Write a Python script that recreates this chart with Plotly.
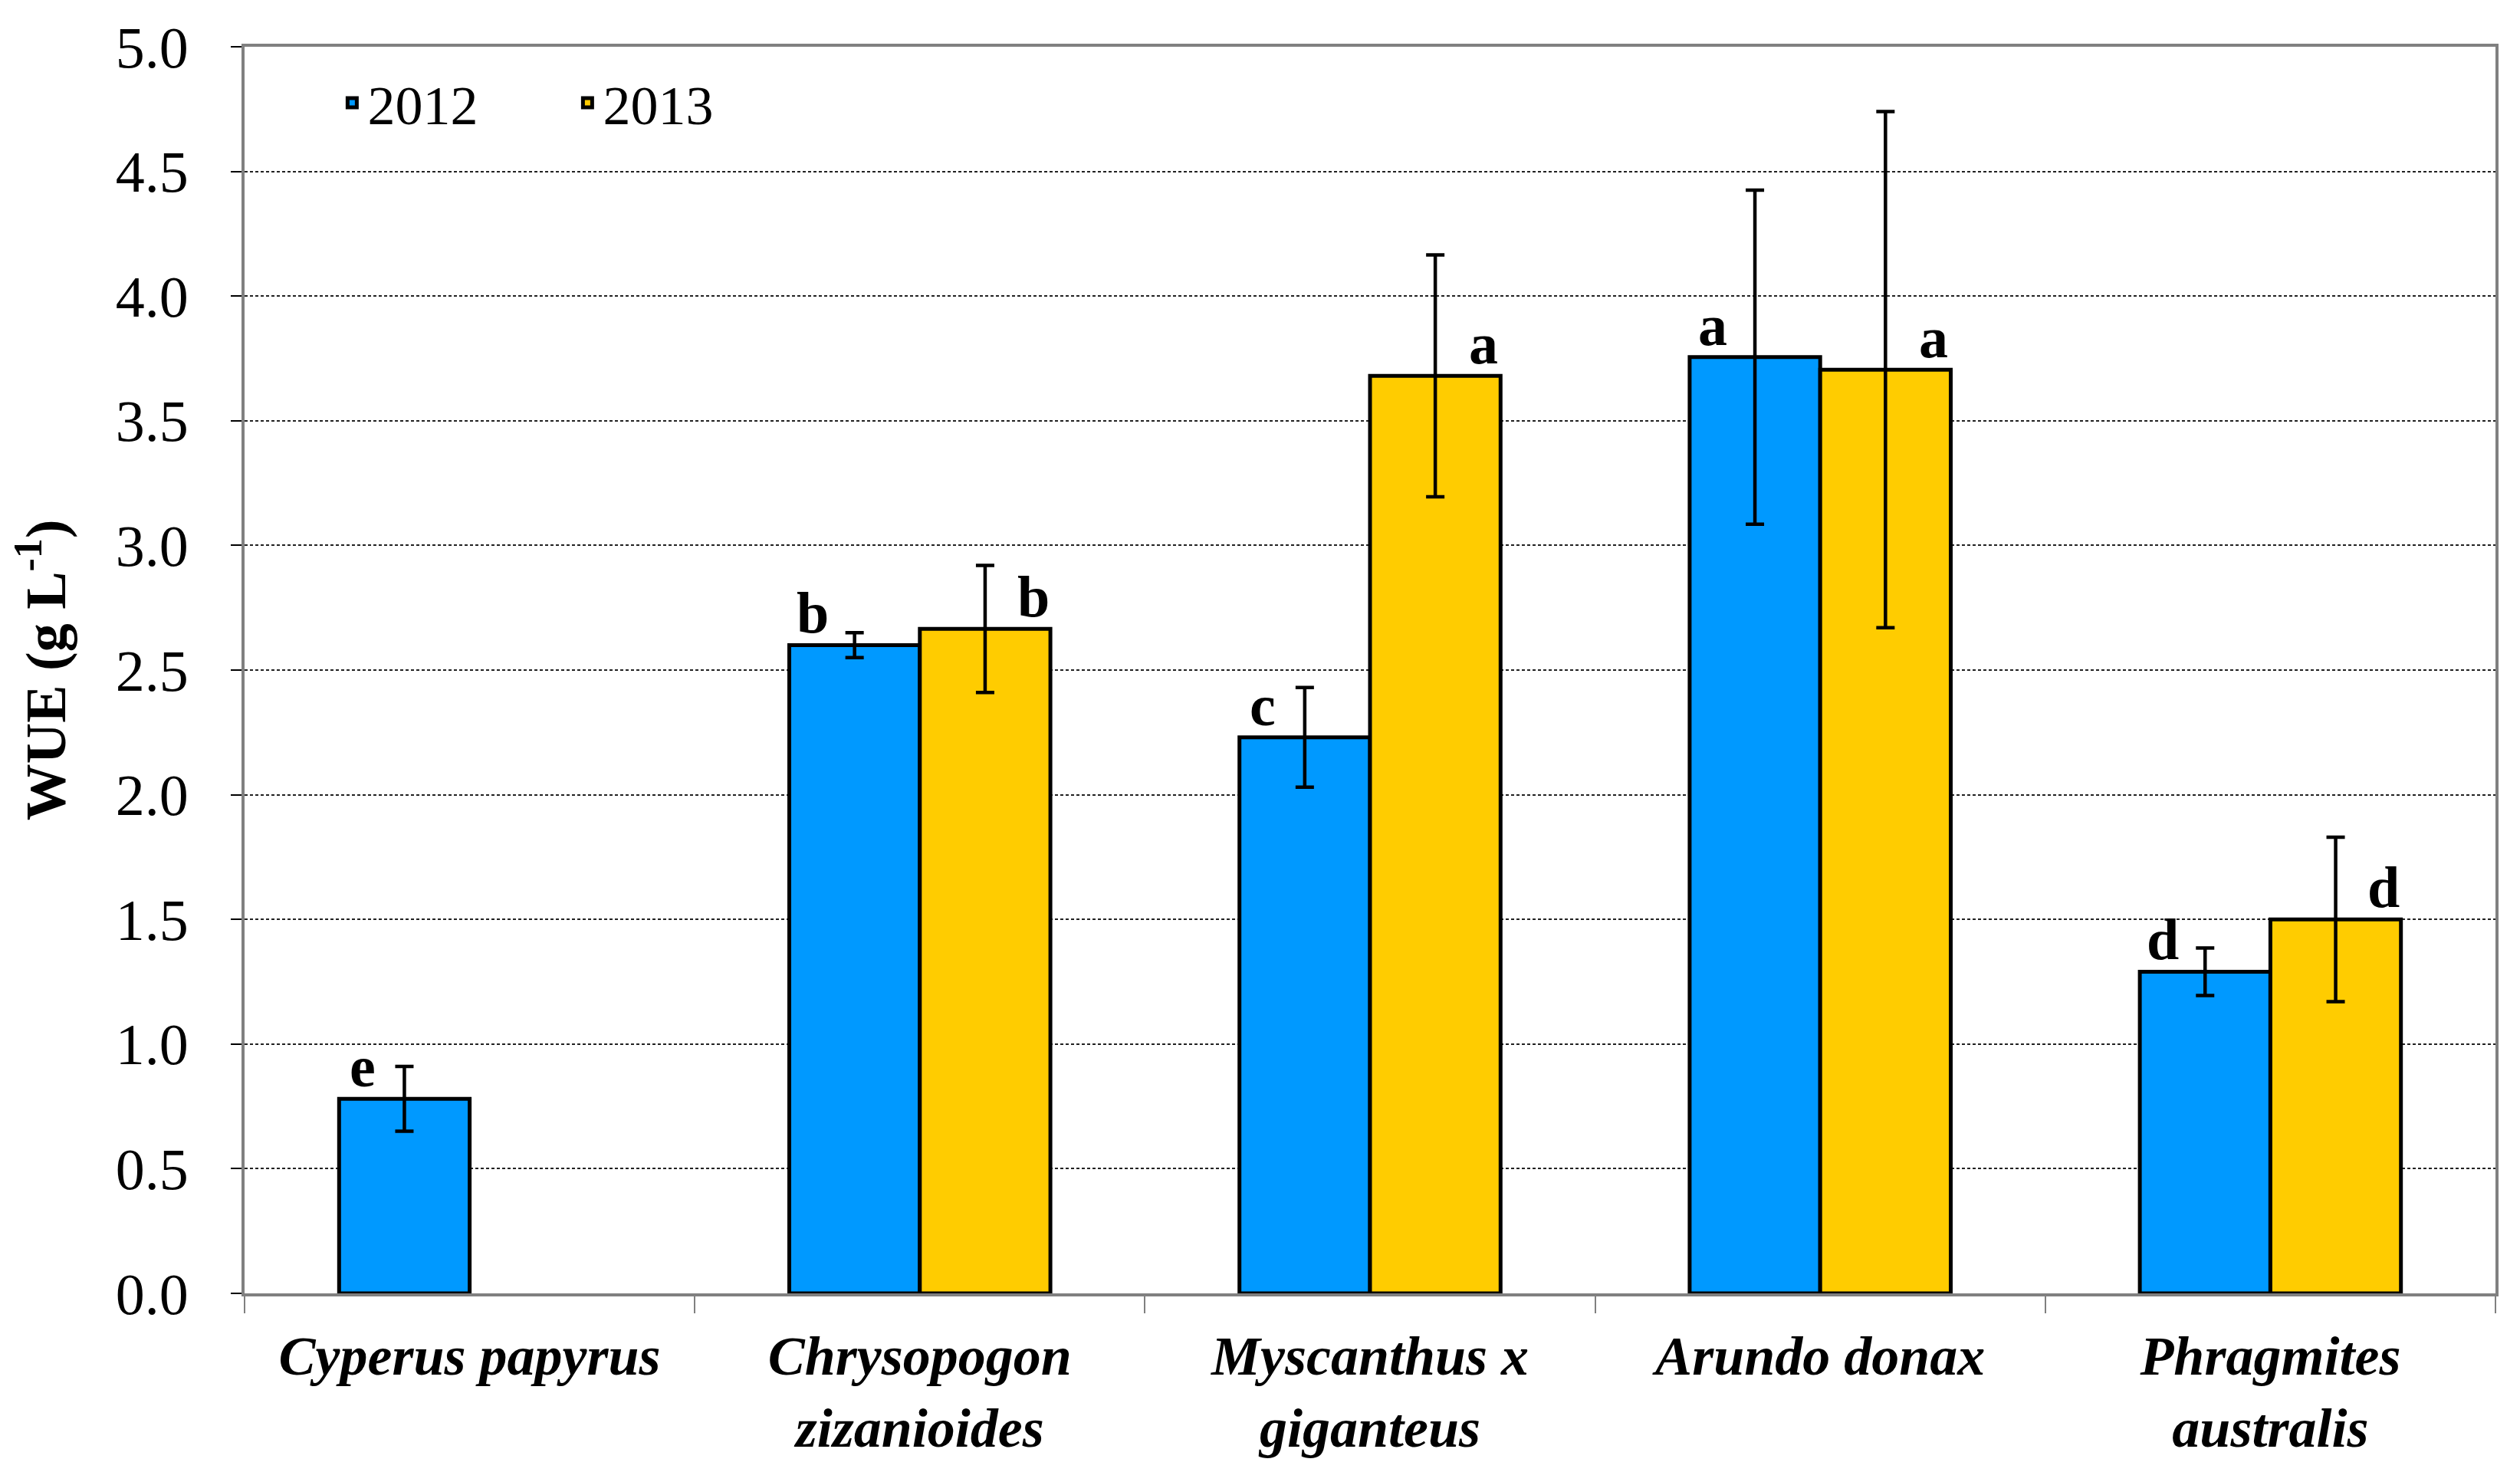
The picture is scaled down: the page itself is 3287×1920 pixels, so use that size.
import plotly.graph_objects as go

categories = [
    "Cyperus papyrus",
    "Chrysopogon<br>zizanioides",
    "Myscanthus x<br>giganteus",
    "Arundo donax",
    "Phragmites<br>australis",
]
series_names = ["2012", "2013"]
wue_2012 = [0.78, 2.60, 2.23, 3.755, 1.29]
err_2012 = [0.13, 0.05, 0.20, 0.67, 0.095]
wue_2013 = [None, 2.665, 3.68, 3.705, 1.50]
err_2013 = [None, 0.255, 0.485, 1.035, 0.33]
letters_2012 = ["e", "b", "c", "a", "d"]
letters_2013 = [None, "b", "a", "a", "d"]
y_ticks = [0.0, 0.5, 1.0, 1.5, 2.0, 2.5, 3.0, 3.5, 4.0, 4.5, 5.0]

colors = ["#0099FF", "#FFCC00"]
FONT = "Liberation Serif"

fig = go.Figure()
for name, vals, errs, col in zip(series_names, [wue_2012, wue_2013], [err_2012, err_2013], colors):
    fig.add_trace(go.Bar(
        name=name,
        x=categories,
        y=vals,
        marker=dict(color=col, line=dict(color="black", width=5)),
        error_y=dict(type="data", array=errs, visible=True, color="black",
                     thickness=4.5, width=12),
    ))

annotations = []
for letters, vals, shift in [(letters_2012, wue_2012, -140), (letters_2013, wue_2013, 148)]:
    for cat, let, v in zip(categories, letters, vals):
        if let is None or v is None:
            continue
        annotations.append(dict(
            x=cat, y=v, xref="x", yref="y", text="<b>%s</b>" % let,
            showarrow=False, xshift=shift, yanchor="bottom", yshift=-2,
            font=dict(family=FONT, size=76, color="black"),
        ))

fig.update_layout(
    width=3287, height=1920,
    margin=dict(l=311, r=40, t=44, b=241),
    paper_bgcolor="white", plot_bgcolor="white",
    barmode="group", bargap=0.42, bargroupgap=0,
    font=dict(family=FONT, size=74, color="black"),
    legend=dict(orientation="h", x=0.041, y=0.955, xanchor="left", yanchor="middle",
                font=dict(family=FONT, size=72), bgcolor="rgba(0,0,0,0)",
                itemwidth=30, entrywidth=262, entrywidthmode="pixels"),
    annotations=annotations,
    showlegend=True,
)
fig.update_xaxes(
    type="category", tickson="boundaries", ticks="outside", ticklen=22,
    tickcolor="#808080", tickwidth=2,
    showline=True, linecolor="#808080", linewidth=4, mirror=True,
    tickfont=dict(family=FONT, size=72, color="black", style="italic", weight="bold"),
    ticklabelstandoff=16,
    showgrid=False,
)
fig.update_yaxes(
    range=[0, 5], tickvals=y_ticks, tickformat=".1f",
    ticks="outside", ticklen=14, tickcolor="black", tickwidth=2,
    showline=True, linecolor="#808080", linewidth=4, mirror=True,
    showgrid=True, gridcolor="#222222", gridwidth=1.5, griddash="4px,3px",
    tickfont=dict(family=FONT, size=76, color="black"),
    ticklabelstandoff=40,
    title=dict(text="<b>WUE (g L<sup>-1</sup>)</b>", font=dict(family=FONT, size=74), standoff=60),
    zeroline=False,
)

fig.write_html("out.html")
